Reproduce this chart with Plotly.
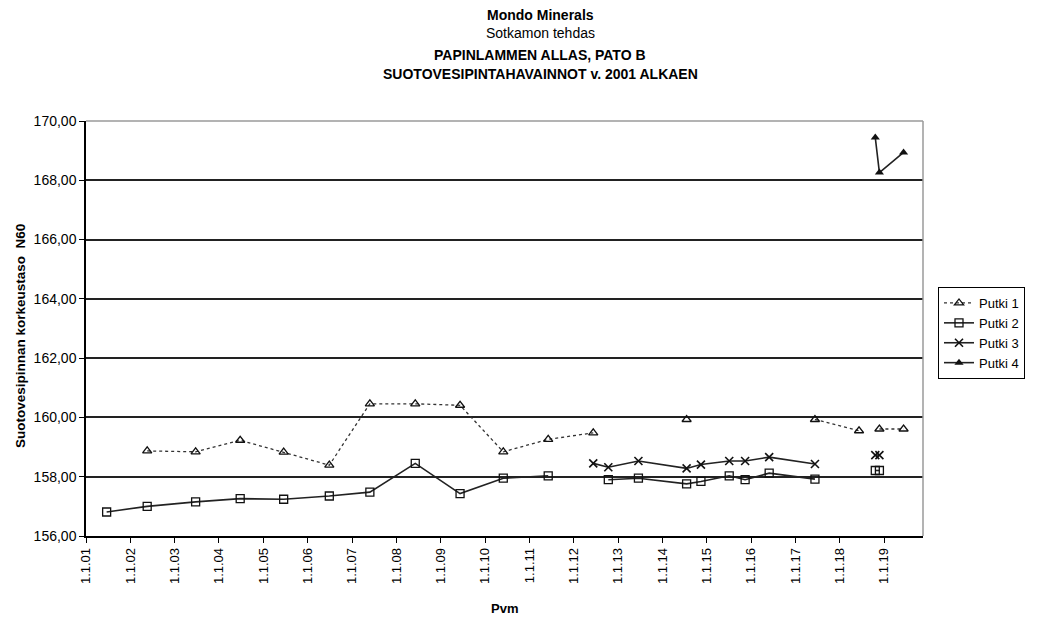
import plotly.graph_objects as go

# ---- data ----
dates = ["2001-06-20", "2002-05-20", "2003-06-23", "2004-06-24", "2005-06-17",
         "2006-06-28", "2007-05-28", "2008-06-05", "2009-06-09", "2010-05-31",
         "2011-06-05", "2012-06-10", "2012-10-12", "2013-06-17", "2014-07-19",
         "2014-11-14", "2015-07-05", "2015-11-13", "2016-05-29", "2017-06-10",
         "2018-06-08", "2018-10-20", "2018-11-23", "2019-06-10"]

putki1 = [None, 158.87, 158.84, 159.23, 158.83, 158.39, 160.46, 160.46, 160.41, 158.84,
          159.26, 159.48, None, None, 159.93, None, None, None, None, 159.93,
          159.55, None, 159.61, 159.61]
putki2 = [156.81, 157.00, 157.15, 157.26, 157.24, 157.35, 157.48, 158.45, 157.43, 157.95,
          158.03, None, 157.90, 157.95, 157.76, 157.84, 158.03, 157.90, 158.12, 157.92,
          None, 158.21, 158.21, None]
putki3 = [None, None, None, None, None, None, None, None, None, None,
          None, 158.45, 158.32, 158.53, 158.28, 158.41, 158.53, 158.53, 158.66, 158.43,
          None, 158.73, 158.73, None]
putki4 = [None, None, None, None, None, None, None, None, None, None,
          None, None, None, None, None, None, None, None, None, None,
          None, 169.44, 168.26, 168.94]

tick_dates = ["2001-01-01", "2002-01-01", "2003-01-01", "2004-01-01", "2005-01-01",
              "2006-01-01", "2007-01-01", "2008-01-01", "2009-01-01", "2010-01-01",
              "2011-01-01", "2012-01-01", "2013-01-01", "2014-01-01", "2015-01-01",
              "2016-01-01", "2017-01-01", "2018-01-01", "2019-01-01"]
tick_labels = ["1.1.01", "1.1.02", "1.1.03", "1.1.04", "1.1.05", "1.1.06", "1.1.07",
               "1.1.08", "1.1.09", "1.1.10", "1.1.11", "1.1.12", "1.1.13", "1.1.14",
               "1.1.15", "1.1.16", "1.1.17", "1.1.18", "1.1.19"]

FONT = "Liberation Sans, Arial, sans-serif"

fig = go.Figure()
fig.add_trace(go.Scatter(x=dates, y=putki1, name="Putki 1", mode="lines+markers",
                         line=dict(color="#333333", width=1.3, dash="dot"),
                         marker=dict(symbol="triangle-up-open", size=8, color="#111111",
                                     line=dict(width=1.3))))
fig.add_trace(go.Scatter(x=dates, y=putki2, name="Putki 2", mode="lines+markers",
                         line=dict(color="#222222", width=1.6),
                         marker=dict(symbol="square-open", size=8, color="#111111",
                                     line=dict(width=1.3))))
fig.add_trace(go.Scatter(x=dates, y=putki3, name="Putki 3", mode="lines+markers",
                         line=dict(color="#222222", width=1.6),
                         marker=dict(symbol="x-thin-open", size=8, color="#111111",
                                     line=dict(width=1.6))))
fig.add_trace(go.Scatter(x=dates, y=putki4, name="Putki 4", mode="lines+markers",
                         line=dict(color="#222222", width=1.6),
                         marker=dict(symbol="triangle-up", size=8, color="#111111")))

# title lines
title_lines = [("<b>Mondo Minerals</b>", 15),
               ("Sotkamon tehdas", 33),
               ("<b>PAPINLAMMEN ALLAS, PATO B</b>", 55),
               ("<b>SUOTOVESIPINTAHAVAINNOT v. 2001 ALKAEN</b>", 74)]
annotations = []
for txt, ypx in title_lines:
    annotations.append(dict(text=txt, xref="paper", yref="paper",
                            x=(540 - 86) / 837, y=(536 - ypx) / 415,
                            xanchor="center", yanchor="middle", showarrow=False,
                            font=dict(family=FONT, size=14, color="#000")))
annotations.append(dict(text="<b>Pvm</b>", xref="paper", yref="paper",
                        x=0.5, y=(536 - 608) / 415, xanchor="center", yanchor="middle",
                        showarrow=False, font=dict(family=FONT, size=13, color="#000")))
annotations.append(dict(text="<b>Suotovesipinnan korkeustaso  N60</b>", xref="paper", yref="paper",
                        x=(20 - 86) / 837, y=(536 - 336) / 415, xanchor="center",
                        yanchor="middle", textangle=-90, showarrow=False,
                        font=dict(family=FONT, size=13.5, color="#000")))

fig.update_layout(
    width=1043, height=620,
    margin=dict(l=86, r=120, t=121, b=84),
    paper_bgcolor="white", plot_bgcolor="white",
    separators=", ",
    font=dict(family=FONT, size=12, color="#000"),
    showlegend=True,
    legend=dict(x=(938 - 86) / 837, y=(536 - 287) / 415, xanchor="left", yanchor="top",
                bordercolor="#000", borderwidth=1, bgcolor="white",
                font=dict(family=FONT, size=13, color="#000"),
                tracegroupgap=0, itemwidth=30),
    annotations=annotations,
    shapes=[
        dict(type="line", xref="paper", yref="paper", x0=0, x1=1, y0=1, y1=1,
             line=dict(color="#9a9a9a", width=1.5), layer="above"),
        dict(type="line", xref="paper", yref="paper", x0=1, x1=1, y0=0, y1=1,
             line=dict(color="#9a9a9a", width=1.5), layer="above"),
    ],
)

fig.update_xaxes(type="date", range=["2001-01-01", "2019-11-17"],
                 tickmode="array", tickvals=tick_dates, ticktext=tick_labels,
                 tickangle=-90, ticks="outside", ticklen=5, tickcolor="#000",
                 showline=True, linecolor="#000", linewidth=1.5,
                 showgrid=False, zeroline=False,
                 tickfont=dict(family=FONT, size=13, color="#000"))
fig.update_yaxes(range=[156, 170], dtick=2, tick0=156, tickformat=".2f",
                 ticks="outside", ticklen=5, tickcolor="#000",
                 showline=True, linecolor="#000", linewidth=1.5,
                 showgrid=True, gridcolor="#222222", gridwidth=1.5, zeroline=False,
                 tickfont=dict(family=FONT, size=14, color="#000"))

fig.write_html("out.html")
